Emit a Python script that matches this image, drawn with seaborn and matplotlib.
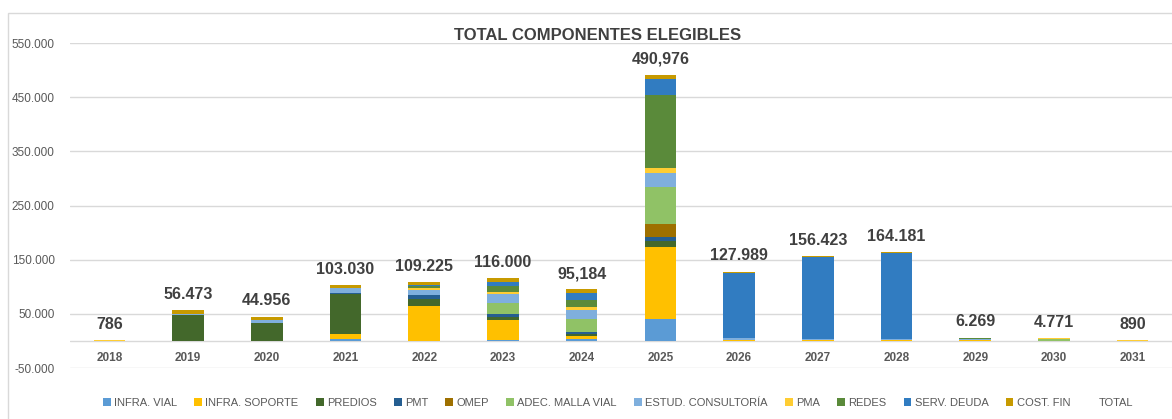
import numpy as np
import matplotlib
matplotlib.use("Agg")
import matplotlib.pyplot as plt
from matplotlib.patches import Patch, Rectangle
import seaborn as sns

# Data
years = ["2018", "2019", "2020", "2021", "2022", "2023", "2024",
         "2025", "2026", "2027", "2028", "2029", "2030", "2031"]

infra_vial      = [0, 0, 0, 4300, 0, 2000, 3000, 40500, 0, 0, 0, 0, 0, 0]
infra_soporte   = [0, 0, 0, 8500, 64500, 36000, 7000, 132000, 1000, 1500, 1500, 1500, 0, 0]
predios         = [0, 47500, 33500, 73500, 12500, 6000, 2300, 12000, 0, 0, 0, 0, 0, 0]
pmt             = [0, 0, 0, 3000, 8200, 5000, 3500, 7500, 0, 0, 0, 0, 0, 0]
omep            = [0, 0, 0, 0, 0, 0, 0, 23000, 0, 0, 0, 0, 0, 0]
adec_malla_vial = [0, 0, 0, 0, 0, 20500, 25000, 69500, 0, 0, 0, 0, 3000, 0]
estud_consult   = [0, 2200, 5000, 7500, 9500, 17500, 16500, 26000, 4000, 1500, 1500, 1500, 500, 0]
pma             = [786, 500, 700, 500, 3000, 3500, 4500, 9500, 1000, 1000, 1000, 1000, 1271, 890]
redes           = [0, 0, 0, 0, 3200, 10000, 13000, 133500, 0, 0, 0, 1500, 0, 0]
serv_deuda      = [0, 0, 0, 0, 2600, 8000, 14000, 30500, 120000, 151000, 159000, 0, 0, 0]
cost_fin        = [0, 6273, 5756, 5730, 5725, 7500, 6384, 6976, 1989, 1423, 1181, 769, 0, 0]

total_labels = ["786", "56.473", "44.956", "103.030", "109.225", "116.000", "95,184",
                "490,976", "127.989", "156.423", "164.181", "6.269", "4.771", "890"]

series = {
    "INFRA. VIAL": (infra_vial, "#5B9BD5"),
    "INFRA. SOPORTE": (infra_soporte, "#FFC000"),
    "PREDIOS": (predios, "#43682B"),
    "PMT": (pmt, "#255E91"),
    "OMEP": (omep, "#9E7000"),
    "ADEC. MALLA VIAL": (adec_malla_vial, "#90C266"),
    "ESTUD. CONSULTORÍA": (estud_consult, "#7FAFDD"),
    "PMA": (pma, "#FFCD33"),
    "REDES": (redes, "#5A8A3A"),
    "SERV. DEUDA": (serv_deuda, "#317CC1"),
    "COST. FIN": (cost_fin, "#C79A00"),
}

sns.set_style("white")
plt.rcParams["font.family"] = ["Liberation Sans", "DejaVu Sans"]

W, H = 1172, 419
fig = plt.figure(figsize=(W / 100, H / 100), dpi=100)
ax = fig.add_axes([70 / W, 1 - 368 / H, (W - 70) / W, (368 - 43) / H])

# stacked bars, one seaborn call per component
bottom = np.zeros(len(years))
for name, (vals, col) in series.items():
    sns.barplot(x=years, y=vals, color=col, bottom=bottom, width=0.4,
                saturation=1, errorbar=None, ax=ax, linewidth=0)
    bottom += np.array(vals)

# total labels above each stack
for i, lab in enumerate(total_labels):
    ax.annotate(lab, (i, bottom[i]), xytext=(0, 8), textcoords="offset points",
                ha="center", va="baseline", fontsize=11.5, fontweight="bold",
                color="#404040")

# year labels sit between zero line and the -50.000 line
for i, y in enumerate(years):
    ax.text(i, -31500, y, ha="center", va="center", fontsize=8.5,
            fontweight="bold", color="#595959")

yticks = np.arange(-50000, 550001, 100000)
ax.set_yticks(yticks)
ax.set_yticklabels([f"{v:,}".replace(",", ".") for v in yticks],
                   fontsize=8.5, color="#595959")
ax.set_ylim(-50000, 550000)
ax.set_xlim(-0.5, len(years) - 0.5)
ax.set_xticks([])
ax.tick_params(axis="y", length=0, pad=11)
ax.yaxis.grid(True, color="#D9D9D9", linewidth=1)
ax.axhline(0, color="#D9D9D9", linewidth=1, zorder=0.5)
ax.set_axisbelow(True)
ax.set_xlabel("")
ax.set_ylabel("")
sns.despine(ax=ax, left=True, bottom=True)

fig.text(598 / W, 1 - 36 / H, "TOTAL COMPONENTES ELEGIBLES", ha="center", va="center",
         fontsize=12, fontweight="bold", color="#404040")

handles = [Patch(facecolor=c, edgecolor="none") for _, c in series.values()]
handles.append(Patch(facecolor="none", edgecolor="none"))
labels = list(series.keys()) + ["TOTAL"]
fig.legend(handles, labels, loc="center", bbox_to_anchor=(618 / W, 1 - 403 / H),
           ncol=12, frameon=False, fontsize=8, handlelength=0.7, handleheight=0.7,
           handletextpad=0.3, columnspacing=1.55, labelcolor="#595959")

# chart area border
fig.add_artist(Rectangle((8 / W, -0.1), 2, 1 - 13 / H + 0.1, transform=fig.transFigure,
                         fill=False, edgecolor="#D9D9D9", linewidth=1))

fig.savefig("out.png", dpi=100)
